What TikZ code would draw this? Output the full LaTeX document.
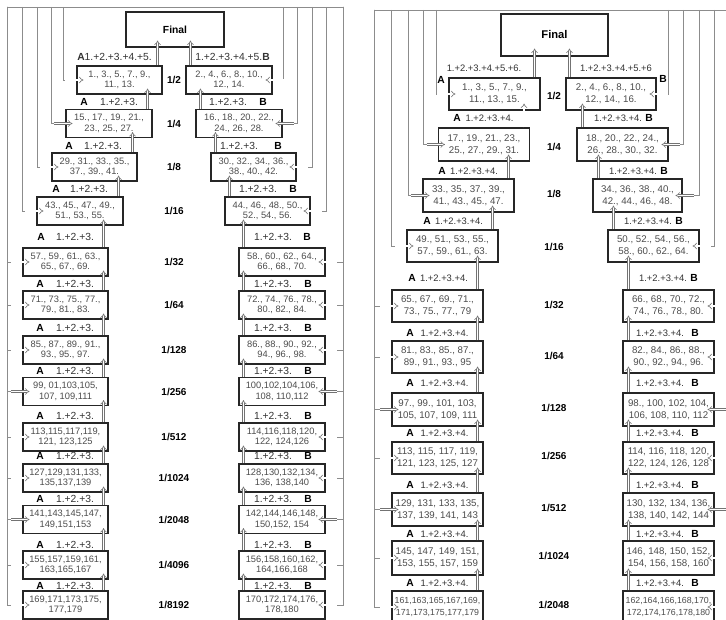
\documentclass[tikz,border=0pt]{standalone}
\usepackage{fontspec}
\setmainfont{Liberation Sans}
\usetikzlibrary{arrows.meta,calc}
\begin{document}
\begin{tikzpicture}[x=1pt,y=-1pt,
 box/.style={draw=black!85, line width=1.1pt, inner sep=0pt, align=center, text=black!70, minimum height=28pt, minimum width=85pt, font=\fontsize{9.3}{10.6}\selectfont},
 boxr/.style={box, minimum height=32pt, minimum width=91pt, font=\fontsize{9.7}{12.4}\selectfont},
 fin/.style={draw=black!85, line width=1.1pt, inner sep=0pt, font=\bfseries\fontsize{10.3}{12}\selectfont},
 lab/.style={inner sep=0pt, text=black!80, font=\fontsize{10.3}{12}\selectfont},
 labr/.style={lab, font=\fontsize{9.4}{11}\selectfont},
 ab/.style={inner sep=0pt, font=\bfseries\fontsize{10.3}{12}\selectfont},
 fracl/.style={inner sep=0pt, font=\bfseries\fontsize{10}{12}\selectfont},
 fr/.style={draw=black!45, line width=0.8pt},
 dbl/.style={draw=black!55, line width=0.6pt, double=white, double distance=1.6pt, -{Implies[scale=1.25]}},
]
\useasboundingbox (0,0) rectangle (726,620);
\clip (0,0) rectangle (726,620);
\fill[white] (0,0) rectangle (726,620);

% ================= LEFT PANEL =================
\node[fin, minimum width=98pt, minimum height=35pt] (FL) at (175,29.5) {Final};
\node[box] (L1) at (119.5,80) {1., 3., 5., 7., 9.,\\11., 13.};
\node[box, minimum width=86pt] (R1) at (229,80) {2., 4., 6., 8., 10.,\\12., 14.};
\node[box, minimum width=86pt] (L2) at (109,123.5) {15., 17., 19., 21.,\\23., 25., 27.};
\node[box, minimum width=86pt] (R2) at (239,123.5) {16., 18., 20., 22.,\\24., 26., 28.};
\node[box] (L3) at (94.5,167) {29., 31., 33., 35.,\\37., 39., 41.};
\node[box] (R3) at (253.5,167) {30., 32., 34., 36.,\\38., 40., 42.};
\node[box, minimum width=86pt] (L4) at (80,211) {43., 45., 47., 49.,\\51., 53., 55.};
\node[box] (R4) at (267.5,211) {44., 46., 48., 50.,\\52., 54., 56.};
\node[box] (L5) at (65.5,262) {57., 59., 61., 63.,\\65., 67., 69.};
\node[box, minimum width=86pt] (R5) at (282,262) {58., 60., 62., 64.,\\66., 68., 70.};
\node[box] (L6) at (65.5,305) {71., 73., 75., 77.,\\79., 81., 83.};
\node[box, minimum width=86pt] (R6) at (282,305) {72., 74., 76., 78.,\\80., 82., 84.};
\node[box] (L7) at (65.5,350) {85., 87., 89., 91.,\\93., 95., 97.};
\node[box, minimum width=86pt] (R7) at (282,350) {86., 88., 90., 92.,\\94., 96., 98.};
\node[box] (L8) at (65.5,391.5) {99, 01,103,105,\\107, 109,111};
\node[box, minimum width=86pt] (R8) at (282,391.5) {100,102,104,106,\\108, 110,112};
\node[box] (L9) at (65.5,437) {113,115,117,119,\\121, 123,125};
\node[box, minimum width=86pt] (R9) at (282,437) {114,116,118,120,\\122, 124,126};
\node[box] (L10) at (65.5,478) {127,129,131,133,\\135,137,139};
\node[box, minimum width=86pt] (R10) at (282,478) {128,130,132,134,\\136, 138,140};
\node[box] (L11) at (65.5,519.5) {141,143,145,147,\\149,151,153};
\node[box, minimum width=86pt] (R11) at (282,519.5) {142,144,146,148,\\150,152, 154};
\node[box] (L12) at (65.5,565) {155,157,159,161,\\163,165,167};
\node[box, minimum width=86pt] (R12) at (282,565) {156,158,160,162,\\164,166,168};
\node[box] (L13) at (65.5,605) {169,171,173,175,\\177,179};
\node[box, minimum width=86pt] (R13) at (282,605) {170,172,174,176,\\178,180};

% middle fractions
\foreach \t/\y [count=\i] in {{1/2}/80,{1/4}/123.5,{1/8}/167,{1/16}/211,{1/32}/262,{1/64}/305,{1/128}/350,{1/256}/391.5,{1/512}/437,{1/1024}/478,{1/2048}/519.5,{1/4096}/565,{1/8192}/605}
  \node[fracl] (mL\i) at (174,\y) {\t};

% labels
\node[lab] (tl1) at (114.5,57) {\textbf{A}1.+2.+3.+4.+5.};
\node[lab] (tr1) at (232.5,57) {1.+2.+3.+4.+5.\textbf{B}};
\foreach \y/\a/\t/\r/\b [count=\i] in {102/84/119/228/263,146/69/103/239/278,189/56/89/258/293,237/41/75/273/307,284/40/75/273/308,328/40/75/273/308,371/40/75/273/308,416/40/75/273/308,456/40/75/273/308,499/40/75/273/308,545/40/75/273/308,586/40/75/273/308} {
  \node[ab] (aL\i) at (\a,\y) {A};
  \node[lab] (sL\i) at (\t,\y) {1.+2.+3.};
  \node[lab] (sR\i) at (\r,\y) {1.+2.+3.};
  \node[ab] (bR\i) at (\b,\y) {B};
}

% frame
\coordinate (fTL) at (7,7);
\coordinate (fTR) at (343,7);
\draw[fr] (fTL) -- (fTR);
\foreach \x/\n in {63/1,51/2,37/3,22/4,7/5,7/6,7/7,7/8,7/9,7/10,7/11,7/12,7/13} {
  \coordinate (cl\n) at (\x,7);
  \draw[fr] (cl\n) |- (L\n.west);
  \draw[dbl] ($(L\n.west)+(-11,0)$) -- ($(L\n.west)+(7,0)$);
}
\foreach \x/\n in {283/1,297/2,312/3,326/4,343/5,343/6,343/7,343/8,343/9,343/10,343/11,343/12,343/13} {
  \coordinate (cr\n) at (\x,7);
  \draw[fr] (cr\n) |- (R\n.east);
  \draw[dbl] ($(R\n.east)+(11,0)$) -- ($(R\n.east)+(-7,0)$);
}

% upward arrows
\path ($(L1.north east)+(-5,0)$) coordinate (uL1);
\draw[dbl] (uL1) -- ($(uL1 |- FL.south)+(0,-7)$);
\path ($(R1.north west)+(5,0)$) coordinate (uR1);
\draw[dbl] (uR1) -- ($(uR1 |- FL.south)+(0,-7)$);
\foreach \j/\k in {1/2,2/3,3/4,4/5,5/6,6/7,7/8,8/9,9/10,10/11,11/12,12/13} {
  \path ($(L\k.north east)+(-5,0)$) coordinate (uL\k);
  \draw[dbl] (uL\k) -- ($(uL\k |- L\j.south)+(0,-6)$);
  \path ($(R\k.north west)+(5,0)$) coordinate (uR\k);
  \draw[dbl] (uR\k) -- ($(uR\k |- R\j.south)+(0,-6)$);
}

% ================= RIGHT PANEL =================
\node[fin, minimum width=107pt, minimum height=42pt, font=\bfseries\fontsize{11.2}{13}\selectfont] (FR) at (554.5,35) {Final};
\node[boxr] (P1) at (494.5,94) {1., 3., 5., 7., 9.,\\11., 13., 15.};
\node[boxr, minimum width=90pt] (Q1) at (611,94) {2., 4., 6., 8., 10.,\\12., 14., 16.};
\node[boxr, minimum height=33pt] (P2) at (484,144.5) {17., 19., 21., 23.,\\25., 27., 29., 31.};
\node[boxr, minimum height=33pt] (Q2) at (622.5,144.5) {18., 20., 22., 24.,\\26., 28., 30., 32.};
\node[boxr, minimum height=33pt] (P3) at (468.5,195.5) {33., 35., 37., 39.,\\41., 43., 45., 47.};
\node[boxr, minimum height=33pt, minimum width=89pt] (Q3) at (637.5,195.5) {34., 36., 38., 40.,\\42., 44., 46., 48.};
\node[boxr] (P4) at (452.5,246) {49., 51., 53., 55.,\\57., 59., 61., 63.};
\node[boxr] (Q4) at (653.5,246) {50., 52., 54., 56.,\\58., 60., 62., 64.};
\node[boxr] (P5) at (437.5,306) {65., 67., 69., 71.,\\73., 75., 77., 79};
\node[boxr] (Q5) at (668.5,306) {66., 68., 70., 72.,\\74., 76., 78., 80.};
\node[boxr] (P6) at (437.5,357) {81., 83., 85., 87.,\\89., 91., 93., 95};
\node[boxr] (Q6) at (668.5,357) {82., 84., 86., 88.,\\90., 92., 94., 96.};
\node[boxr, minimum height=33pt] (P7) at (437.5,409.5) {97., 99., 101, 103,\\105, 107, 109, 111};
\node[boxr, minimum height=33pt] (Q7) at (668.5,409.5) {98., 100, 102, 104,\\106, 108, 110, 112};
\node[boxr] (P8) at (437.5,458) {113, 115, 117, 119,\\121, 123, 125, 127};
\node[boxr] (Q8) at (668.5,458) {114, 116, 118, 120,\\122, 124, 126, 128};
\node[boxr, minimum height=33pt] (P9) at (437.5,509.5) {129, 131, 133, 135,\\137, 139, 141, 143};
\node[boxr, minimum height=33pt] (Q9) at (668.5,509.5) {130, 132, 134, 136,\\138, 140, 142, 144};
\node[boxr, minimum height=34pt] (P10) at (437.5,558) {145, 147, 149, 151,\\153, 155, 157, 159};
\node[boxr, minimum height=34pt] (Q10) at (668.5,558) {146, 148, 150, 152,\\154, 156, 158, 160};
\node[boxr, font=\fontsize{8.8}{12.4}\selectfont] (P11) at (437.5,607) {161,163,165,167,169,\\171,173,175,177,179};
\node[boxr, font=\fontsize{8.8}{12.4}\selectfont] (Q11) at (668.5,607) {162,164,166,168,170,\\172,174,176,178,180};

\foreach \t/\y [count=\i] in {{1/2}/96,{1/4}/147,{1/8}/194,{1/16}/247,{1/32}/305,{1/64}/356,{1/128}/408,{1/256}/456,{1/512}/508,{1/1024}/556,{1/2048}/605}
  \node[fracl] (mR\i) at (554,\y) {\t};

\node[labr] (tP1) at (484,68) {1.+2.+3.+4.+5.+6.};
\node[labr] (tQ1) at (616,68) {1.+2.+3.+4.+5.+6};
\node[ab] (aP0) at (441,80) {A};
\node[ab] (bQ0) at (663,79) {B};
\foreach \y/\a/\t/\r/\b [count=\i] in {118/457/489.5/618/649,171/442/474/633/664,221/427/459/648/679,278/412/444/663/694,333/410/444.5/660/695,383/410/444.5/660/695,433/410/444.5/660/695,485/410/444.5/660/695,534/410/444.5/660/695,583/410/444.5/660/695} {
  \node[ab] (aP\i) at (\a,\y) {A};
  \node[labr] (sP\i) at (\t,\y) {1.+2.+3.+4.};
  \node[labr] (sQ\i) at (\r,\y) {1.+2.+3.+4.};
  \node[ab] (bQ\i) at (\b,\y) {B};
}

\coordinate (gTL) at (374,10);
\coordinate (gTR) at (740,10);
\draw[fr] (gTL) -- (gTR);
\foreach \x/\n in {436/1,423/2,408/3,391/4,374/5,374/6,374/7,374/8,374/9,374/10,374/11} {
  \coordinate (cp\n) at (\x,10);
  \draw[fr] (cp\n) |- (P\n.west);
  \draw[dbl] ($(P\n.west)+(-11,0)$) -- ($(P\n.west)+(7,0)$);
}
\foreach \x/\n in {668/1,683/2,699/3,714/4,730/5,730/6,730/7,730/8,730/9,730/10,730/11} {
  \coordinate (cq\n) at (\x,10);
  \draw[fr] (cq\n) |- (Q\n.east);
  \draw[dbl] ($(Q\n.east)+(11,0)$) -- ($(Q\n.east)+(-7,0)$);
}

\path ($(P1.north east)+(-6,0)$) coordinate (uP1);
\draw[dbl] (uP1) -- ($(uP1 |- FR.south)+(0,-8)$);
\path ($(Q1.north west)+(4,0)$) coordinate (uQ1);
\draw[dbl] (uQ1) -- ($(uQ1 |- FR.south)+(0,-8)$);
\foreach \j/\k in {1/2,2/3,3/4,4/5,5/6,6/7,7/8,8/9,9/10,10/11} {
  \path ($(P\k.north east)+(-6,0)$) coordinate (uP\k);
  \draw[dbl] (uP\k) -- ($(uP\k |- P\j.south)+(0,-7)$);
  \path ($(Q\k.north west)+(6,0)$) coordinate (uQ\k);
  \draw[dbl] (uQ\k) -- ($(uQ\k |- Q\j.south)+(0,-7)$);
}
\end{tikzpicture}
\end{document}
